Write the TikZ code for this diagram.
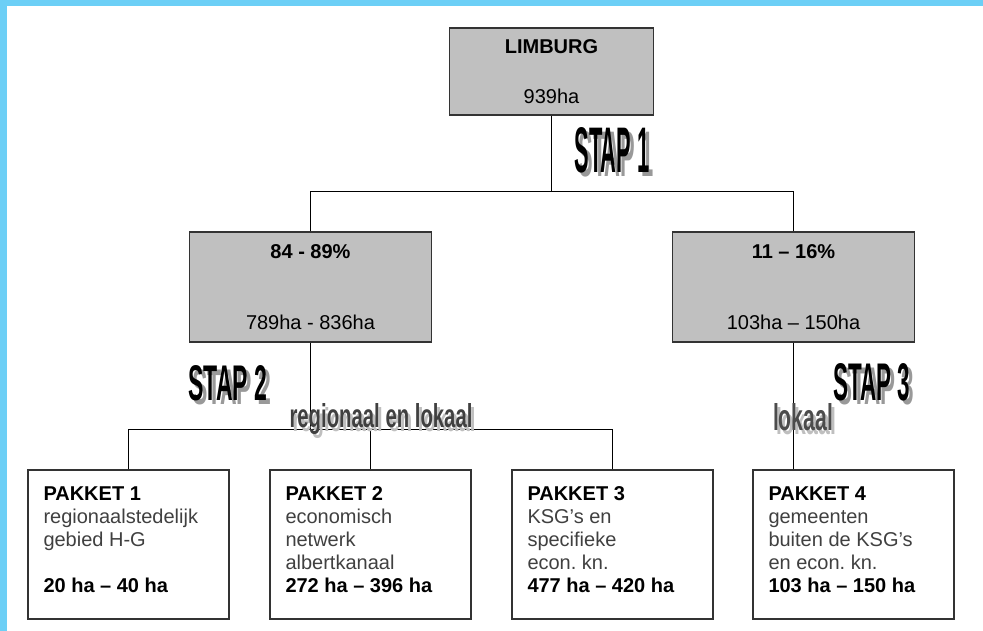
\documentclass[tikz,border=0pt]{standalone}
\usepackage{fontspec}
\setmainfont{Liberation Sans}
\usepackage{graphicx}
\usetikzlibrary{positioning}

\definecolor{frameblue}{HTML}{6CCFF6}
\definecolor{boxgrey}{HTML}{C0C0C0}

% text block of a package box, hung from the top
\newcommand{\pakkettext}[1]{\parbox[c][116pt][t]{170pt}{\frenchspacing#1}}

\begin{document}
\begin{tikzpicture}[
    x=1pt, y=-1pt,
    greybox/.style={draw=black!80, line width=1.4pt, fill=boxgrey, align=center, font=\fontsize{20}{23}\selectfont},
    pakket/.style={draw=black!80, line width=1.4pt, fill=white, minimum width=201pt, minimum height=149pt, inner sep=0pt, font=\fontsize{20}{23}\selectfont},
    link/.style={draw=black, line width=1pt},
    stap/.style={inner sep=0pt, anchor=base, text=black},
    stapshadow/.style={inner sep=0pt, anchor=base, text=black!40},
]
\useasboundingbox (0,0) rectangle (983,631);

% frame
\fill[frameblue] (0,0) rectangle (983,6);
\fill[frameblue] (0,0) rectangle (7,631);

% boxes
\node[greybox, minimum width=204pt, minimum height=87pt] (limburg) at (551.5,71.5)
    {\textbf{LIMBURG}\\[27pt]939ha};
\node[greybox, minimum width=242pt, minimum height=110pt] (regio) at (310.5,287)
    {\textbf{84 - 89\%}\\[48pt]789ha - 836ha};
\node[greybox, minimum width=242pt, minimum height=110pt] (lokaal) at (793.5,287)
    {\textbf{11 – 16\%}\\[48pt]103ha – 150ha};

\node[pakket] (p1) at (128.5,544.5) {\pakkettext{\textbf{PAKKET 1}\\
    {\color{black!75}regionaalstedelijk\\gebied H-G}\\ \mbox{}\\
    \textbf{20 ha – 40 ha}}};
\node[pakket] (p2) at (370.5,544.5) {\pakkettext{\textbf{PAKKET 2}\\
    {\color{black!75}economisch\\netwerk\\albertkanaal}\\
    \textbf{272 ha – 396 ha}}};
\node[pakket] (p3) at (612.5,544.5) {\pakkettext{\textbf{PAKKET 3}\\
    {\color{black!75}KSG’s en\\specifieke\\econ. kn.}\\
    \textbf{477 ha – 420 ha}}};
\node[pakket] (p4) at (853.5,544.5) {\pakkettext{\textbf{PAKKET 4}\\
    {\color{black!75}gemeenten\\buiten de KSG’s\\en econ. kn.}\\
    \textbf{103 ha – 150 ha}}};

% connectors
\coordinate (split1) at (551.5,191.5);
\coordinate (split2) at (310.5,429.5);
\draw[link] (limburg) -- (split1);
\draw[link] (regio.north) |- (split1) -| (lokaal.north);
\draw[link] (regio) -- (split2);
\draw[link] (p1.north) |- (split2) -| (p3.north);
\draw[link] (split2 -| p2.north) -- (p2.north);
\draw[link] (lokaal.south) -- (lokaal.south |- p4.north);

% step labels
\node[stapshadow] (stap1s) at (616,177) {\resizebox{75pt}{45pt}{\bfseries STAP 1}};
\node[stap] (stap1) at (612,173) {\resizebox{75pt}{45pt}{\bfseries STAP 1}};
\node[stapshadow] (stap2s) at (232,404) {\resizebox{79pt}{35pt}{\bfseries STAP 2}};
\node[stap] (stap2) at (228,400) {\resizebox{79pt}{35pt}{\bfseries STAP 2}};
\node[stapshadow] (stap3s) at (876,404) {\resizebox{77pt}{37pt}{\bfseries STAP 3}};
\node[stap] (stap3) at (872,400) {\resizebox{77pt}{37pt}{\bfseries STAP 3}};

\node[stapshadow, text=black!25] (regios) at (384,431) {\resizebox{183pt}{24pt}{\bfseries regionaal en lokaal}};
\node[stap, text=black!75] (regiolbl) at (381,427) {\resizebox{183pt}{24pt}{\bfseries regionaal en lokaal}};
\node[stapshadow, text=black!25] (lokaals) at (806,434) {\resizebox{60pt}{27pt}{\bfseries lokaal}};
\node[stap, text=black!70] (lokaallbl) at (803,430) {\resizebox{60pt}{27pt}{\bfseries lokaal}};

\end{tikzpicture}
\end{document}
